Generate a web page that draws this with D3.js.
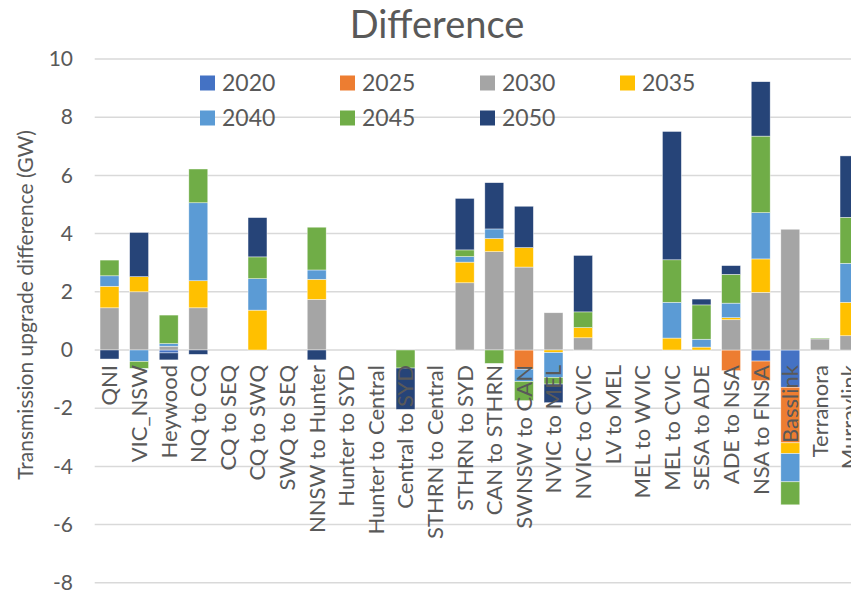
<!DOCTYPE html>
<html>
<head>
<meta charset="utf-8">
<script src="https://cdn.jsdelivr.net/npm/d3@7"></script>
<style>
  html, body { margin: 0; padding: 0; background: #fff; overflow: hidden; }
  svg { display: block; font-family: Lato, "Open Sans", sans-serif; }
</style>
</head>
<body>
<svg id="chart" width="851" height="590"></svg>
<script>
// Interconnector / flow-path names along the x axis
const categories = [
  "QNI", "VIC_NSW", "Heywood", "NQ to CQ", "CQ to SEQ", "CQ to SWQ", "SWQ to SEQ",
  "NNSW to Hunter", "Hunter to SYD", "Hunter to Central", "Central to SYD",
  "STHRN to Central", "STHRN to SYD", "CAN to STHRN", "SWNSW to CAN", "NVIC to MEL",
  "NVIC to CVIC", "LV to MEL", "MEL to WVIC", "MEL to CVIC", "SESA to ADE",
  "ADE to NSA", "NSA to FNSA", "Basslink", "Terranora", "Murraylink"
];

const seriesNames = ["2020", "2025", "2030", "2035", "2040", "2045", "2050"];
const seriesColors = ["#4472C4", "#ED7D31", "#A5A5A5", "#FFC000", "#5B9BD5", "#70AD47", "#264478"];

// Upgrade difference (GW) per year, one value per category
const s2020 = [0, 0, -0.10, 0, 0, 0, 0, 0, 0, 0, 0, 0, 0, 0, 0, 0, 0, 0, 0, 0, 0, 0, -0.38, -1.28, 0, 0];
const s2025 = [0, 0, 0, 0, 0, 0, 0, 0, 0, 0, 0, 0, 0, 0, -0.66, 0, 0, 0, 0, 0, 0, -0.71, -0.67, -1.91, 0, 0];
const s2030 = [1.45, 2.00, 0.13, 1.45, 0, 0, 0, 1.74, 0, 0, 0, 0, 2.31, 3.38, 2.85, 1.28, 0.42, 0, 0, 0, 0, 1.04, 1.98, 4.15, 0.38, 0.49];
const s2035 = [0.74, 0.52, 0, 0.93, 0, 1.37, 0, 0.69, 0, 0, 0, 0, 0.71, 0.45, 0.67, -0.09, 0.35, 0, 0, 0.41, 0.10, 0.07, 1.15, -0.37, 0, 1.15];
const s2040 = [0.36, -0.39, 0.09, 2.68, 0, 1.08, 0, 0.32, 0, 0, 0, 0, 0.19, 0.33, -0.42, -0.85, 0, 0, 0, 1.23, 0.27, 0.50, 1.59, -0.97, 0, 1.34];
const s2045 = [0.54, -0.24, 0.98, 1.16, 0, 0.75, 0, 1.47, 0, 0, -0.62, 0, 0.23, -0.46, -0.66, -0.23, 0.54, 0, 0, 1.46, 1.18, 0.99, 2.63, -0.79, 0.03, 1.58];
const s2050 = [-0.31, 1.52, -0.24, -0.15, 0, 1.35, 0, -0.34, 0, 0, -1.42, 0, 1.77, 1.59, 1.42, -0.64, 1.94, 0, 0, 4.41, 0.20, 0.30, 1.87, 0, 0, 2.11];

const yTicks = [-8, -6, -4, -2, 0, 2, 4, 6, 8, 10];

// Build rows for d3.stack
const seriesValues = [s2020, s2025, s2030, s2035, s2040, s2045, s2050];
const rows = categories.map((c, i) => {
  const r = { category: c };
  seriesNames.forEach((s, k) => { r[s] = seriesValues[k][i]; });
  return r;
});

const svg = d3.select("#chart");
const textColor = "#595959";

// Plot area (the category axis runs a little past the right edge)
const plotLeft = 94.7, plotRight = 864.3;
const x = d3.scaleBand().domain(categories).range([plotLeft, plotRight])
  .paddingInner(0.36).paddingOuter(0.18);
const y = d3.scaleLinear().domain([-10, 10]).range([641, 59]);

// Gridlines
svg.append("g").selectAll("line").data(yTicks).join("line")
  .attr("x1", plotLeft).attr("x2", plotRight)
  .attr("y1", d => y(d)).attr("y2", d => y(d))
  .attr("stroke", "#d9d9d9").attr("stroke-width", 1.5);

// Y axis labels (plain hyphen for negatives)
const yAxis = d3.axisLeft(y).tickValues(yTicks).tickSize(0).tickPadding(0).tickFormat(d => String(d));
const gy = svg.append("g").attr("transform", "translate(73,0)").call(yAxis);
gy.select(".domain").remove();
gy.selectAll("text").attr("fill", textColor).attr("font-size", 21).attr("font-family", "Lato, sans-serif");

// Y axis title
svg.append("text")
  .attr("transform", "translate(26,305) rotate(-90)")
  .attr("text-anchor", "middle").attr("dy", "0.35em")
  .attr("fill", textColor).attr("font-size", 21)
  .text("Transmission upgrade difference (GW)");

// Stacked bars (positives stack up from zero, negatives down)
const stack = d3.stack().keys(seriesNames).offset(d3.stackOffsetDiverging);
const stacked = stack(rows);

svg.append("g").selectAll("g").data(stacked).join("g")
  .attr("fill", (d, i) => seriesColors[i])
  .selectAll("rect").data(d => d).join("rect")
  .attr("x", d => x(d.data.category))
  .attr("width", x.bandwidth())
  .attr("y", d => y(Math.max(d[0], d[1])))
  .attr("height", d => Math.abs(y(d[0]) - y(d[1])))
  .attr("stroke", "#ffffff").attr("stroke-width", 0.6).attr("stroke-opacity", 0.7);

// Category labels, rotated, hanging just below the zero line
const xAxis = d3.axisBottom(x).tickSize(0).tickPadding(0);
const gx = svg.append("g").attr("transform", `translate(0,${y(0)})`).call(xAxis);
gx.select(".domain").remove();
gx.selectAll("text")
  .attr("transform", "rotate(-90)")
  .attr("x", -15).attr("y", 0).attr("dy", "0.36em")
  .attr("text-anchor", "end")
  .attr("fill", textColor).attr("font-size", 22).attr("font-family", "Lato, sans-serif");

// Title
svg.append("text")
  .attr("x", 437).attr("y", 38)
  .attr("text-anchor", "middle")
  .attr("fill", textColor).attr("font-size", 38)
  .text("Difference");

// Legend: 4 columns, 2 rows
const legend = svg.append("g");
seriesNames.forEach((s, i) => {
  const col = i % 4, row = Math.floor(i / 4);
  const lx = 200 + col * 140, ly = 83 + row * 35;
  legend.append("rect").attr("x", lx).attr("y", ly - 7.5).attr("width", 15).attr("height", 15)
    .attr("fill", seriesColors[i]);
  legend.append("text").attr("x", lx + 22).attr("y", ly).attr("dy", "0.36em")
    .attr("fill", textColor).attr("font-size", 23).text(s);
});
</script>
</body>
</html>
